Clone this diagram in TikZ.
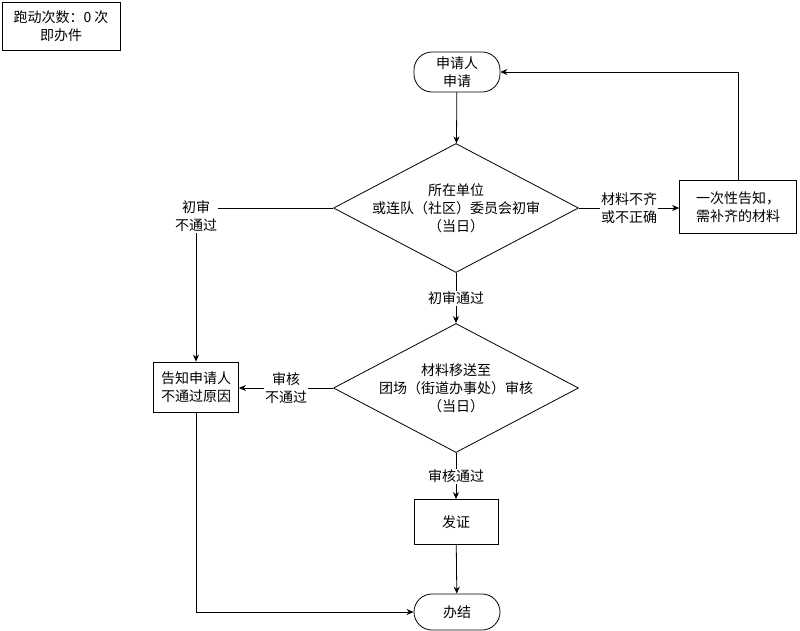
\documentclass[tikz,border=0pt]{standalone}
\usepackage{fontspec}
\setmainfont{Noto Sans CJK SC}
\usetikzlibrary{shapes.geometric,arrows.meta,positioning}

\begin{document}
\begin{tikzpicture}[x=1pt,y=-1pt,line width=0.8pt,
  font=\fontsize{14}{18}\selectfont,
  terminal/.style={draw,rectangle,rounded corners=18pt,minimum width=86pt,minimum height=40pt,align=center},
  decision/.style={draw,diamond,inner sep=0pt,minimum width=245pt,minimum height=129pt,
    label={[align=center]center:{#1}}},
  process/.style={draw,rectangle,minimum width=85pt,minimum height=50pt,align=center},
  lbl/.style={fill=white,inner sep=1pt,align=center},
  arr/.style={-{Stealth[length=7pt,width=6pt]}}]
\useasboundingbox (0,0) rectangle (800,630);
% count note
\node[draw,minimum width=118pt,minimum height=48pt,align=center] (count) at (61,26) {跑动次数：0 次\\即办件};
% main column
\node[terminal] (start) at (457,72) {申请人\\申请};
\node[decision={所在单位\\或连队（社区）委员会初审\\（当日）}] (check) at (456,208) {};
\node[decision={材料移送至\\团场（街道办事处）审核\\（当日）}] (review) at (456,388) {};
\node[process,minimum width=84pt,minimum height=45pt] (issue) at (456,522) {发证};
\node[terminal,minimum height=36pt] (done) at (457,612) {办结};
% side boxes
\node[process,minimum width=117pt,minimum height=53pt] (notify) at (738,207) {一次性告知，\\需补齐的材料};
\node[process] (reject) at (196,387) {告知申请人\\不通过原因};
\node[lbl] (failA) at (196,216) {初审\\不通过};
% connectors
\draw[arr] (start) -- (check);
\draw[arr] (check.south) -- node[lbl] {初审通过} (review.north);
\draw[arr] (review.south) -- node[lbl] {审核通过} (issue.north);
\draw[arr] (issue) -- (done);
\draw[arr] (check.east) -- node[lbl] {材料不齐\\或不正确} (check.east -| notify.west);
\draw[arr] (notify.north) |- (start.east);
\draw (check.west) -- (check.west -| failA.east);
\draw[arr] (failA.south) -- (reject.north);
\draw[arr] (review.west) -- node[lbl] {审核\\不通过} (review.west -| reject.east);
\draw[arr] (reject.south) |- (done.west);
\end{tikzpicture}
\end{document}
